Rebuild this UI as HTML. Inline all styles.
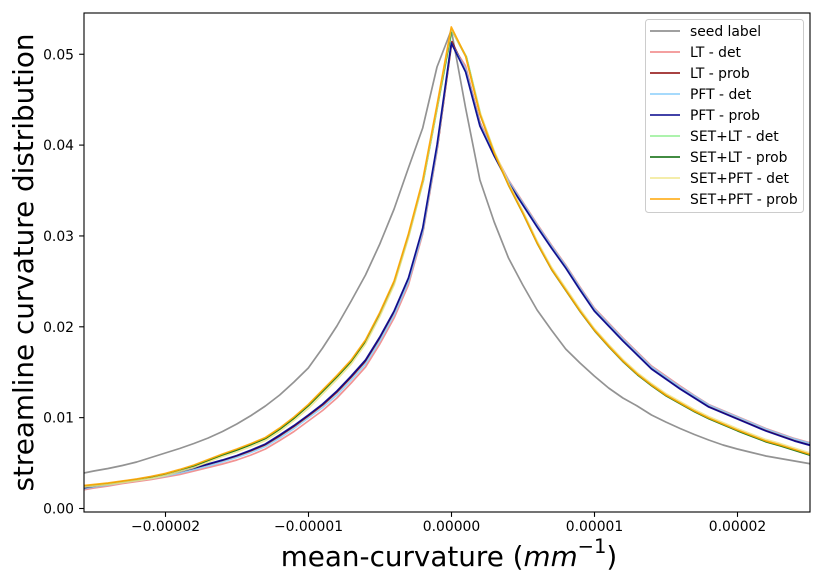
<!DOCTYPE html>
<html>
<head>
<meta charset="utf-8">
<style>
  html, body { margin: 0; padding: 0; background: #ffffff; }
  svg { display: block; }
  text { font-family: "DejaVu Sans", "Liberation Sans", sans-serif; fill: #000; }
</style>
</head>
<body>
<svg width="824" height="584" viewBox="0 0 824 584" xmlns="http://www.w3.org/2000/svg">
  <rect x="0" y="0" width="824" height="584" fill="#ffffff"/>
  <defs>
    <clipPath id="plot">
      <rect x="84" y="13" width="726" height="499"/>
    </clipPath>
  </defs>

  <g clip-path="url(#plot)" fill="none" stroke-width="1.7" stroke-linejoin="round" stroke-linecap="butt" opacity="1">
    <!-- seed label -->
    <polyline stroke="#808080" stroke-opacity="0.85" points="79.5,474 93.8,471 108.1,468.5 122.4,465.5 136.7,462 151,457.5 165.3,453 179.6,448.5 193.9,443.5 208.2,438 222.5,431.5 236.8,424 251.1,415.5 265.4,406 279.7,395 294,382 308.3,368 322.6,348 336.9,326 351.2,301 365.5,275 379.8,244 394.1,209 408.4,168 422.7,128 437,67 451.3,30 465.6,108 479.9,180 494.2,222 508.5,258 522.8,285 537.1,310 551.4,330 565.7,349 580,363 594.3,376 608.6,388 622.9,398 637.2,406 651.5,415 665.8,422 680.1,428.5 694.4,434.5 708.7,440 723,445 737.3,449 751.6,452.5 765.9,456 780.2,458.5 794.5,461 808.8,463.5 823.1,466"/>
    <!-- LT - det -->
    <polyline stroke="#f08080" stroke-opacity="0.85" points="79.5,490.5 93.8,488 108.1,486 122.4,483.5 136.7,481.5 151,479.5 165.3,477 179.6,474.5 193.9,471 208.2,467.5 222.5,464 236.8,460 251.1,455 265.4,449 279.7,440.5 294,431.5 308.3,421 322.6,410.5 336.9,398 351.2,383 365.5,367 379.8,344 394.1,318 408.4,285 422.7,234 437,151 451.3,44 465.6,66 479.9,122 494.2,153 508.5,180 522.8,202 537.1,224 551.4,245 565.7,265 580,287 594.3,308 608.6,323 622.9,338 637.2,352 651.5,366 665.8,376 680.1,386 694.4,395.5 708.7,404.5 723,410.5 737.3,416.5 751.6,422.5 765.9,428.5 780.2,433.5 794.5,438.5 808.8,442.5 823.1,446.5"/>
    <!-- LT - prob -->
    <polyline stroke="#8b0000" stroke-opacity="0.85" transform="translate(0.6,0.6)" points="79.5,488.5 93.8,486 108.1,484 122.4,481.5 136.7,479.5 151,477 165.3,474.5 179.6,471.5 193.9,468 208.2,464 222.5,460 236.8,455.5 251.1,450 265.4,444 279.7,435 294,425.5 308.3,415 322.6,404 336.9,391 351.2,376 365.5,360 379.8,337 394.1,311 408.4,278 422.7,228 437,145 451.3,41 465.6,71 479.9,125 494.2,155 508.5,182 522.8,204 537.1,226 551.4,247 565.7,267 580,289 594.3,310 608.6,325 622.9,340 637.2,354 651.5,368 665.8,378 680.1,388 694.4,397 708.7,406 723,412 737.3,418 751.6,424 765.9,430 780.2,435 794.5,440 808.8,444 823.1,448"/>
    <!-- PFT - det -->
    <polyline stroke="#87cefa" stroke-opacity="0.85" points="79.5,489.5 93.8,487 108.1,485 122.4,482.5 136.7,480.5 151,478.5 165.3,476 179.6,473 193.9,469.5 208.2,466 222.5,462 236.8,457.5 251.1,452.5 265.4,446.5 279.7,438 294,428.5 308.3,418 322.6,407.5 336.9,395 351.2,380 365.5,364 379.8,341 394.1,315 408.4,282 422.7,232 437,149 451.3,43 465.6,69 479.9,124 494.2,154 508.5,181 522.8,203 537.1,225 551.4,246 565.7,266 580,288 594.3,309 608.6,324 622.9,339 637.2,353 651.5,367 665.8,377 680.1,387 694.4,396 708.7,405 723,411 737.3,417 751.6,423 765.9,429 780.2,434 794.5,439 808.8,443 823.1,447"/>
    <!-- PFT - prob -->
    <polyline stroke="#00008b" stroke-opacity="0.9" points="79.5,488.5 93.8,486 108.1,484 122.4,481.5 136.7,479.5 151,477 165.3,474.5 179.6,471.5 193.9,468 208.2,464 222.5,460 236.8,455.5 251.1,450 265.4,444 279.7,435 294,425.5 308.3,415 322.6,404 336.9,391 351.2,376 365.5,360 379.8,337 394.1,311 408.4,278 422.7,228 437,145 451.3,43 465.6,72 479.9,126 494.2,156 508.5,183 522.8,205 537.1,227 551.4,248 565.7,268 580,290 594.3,311 608.6,326 622.9,341 637.2,355 651.5,369 665.8,379 680.1,389 694.4,398 708.7,407 723,413 737.3,419 751.6,425 765.9,431 780.2,436 794.5,441 808.8,445 823.1,449"/>
    <!-- SET+LT - det -->
    <polyline stroke="#90ee90" stroke-opacity="0.85" transform="translate(0.8,0.5)" points="79.5,486 93.8,484.5 108.1,483 122.4,481 136.7,479 151,476.5 165.3,473.5 179.6,469.5 193.9,465 208.2,459.5 222.5,454 236.8,449 251.1,443.5 265.4,437.5 279.7,428 294,417 308.3,404.5 322.6,390 336.9,375.5 351.2,360 365.5,340 379.8,312.5 394.1,281 408.4,234 422.7,180 437,105 451.3,30 465.6,56 479.9,114 494.2,153 508.5,185 522.8,213 537.1,243 551.4,269 565.7,290 580,311 594.3,330 608.6,346 622.9,361 637.2,374 651.5,385 665.8,395 680.1,403 694.4,411 708.7,418 723,424 737.3,430 751.6,435.5 765.9,441 780.2,445 794.5,449.5 808.8,454 823.1,458"/>
    <!-- SET+LT - prob -->
    <polyline stroke="#006400" stroke-opacity="0.85" transform="translate(0.4,0.9)" points="79.5,486 93.8,484.5 108.1,483 122.4,481 136.7,479 151,476.5 165.3,473.5 179.6,469.5 193.9,465 208.2,459.5 222.5,454 236.8,449 251.1,443.5 265.4,437.5 279.7,428 294,417 308.3,404.5 322.6,390 336.9,375.5 351.2,360 365.5,340 379.8,312.5 394.1,281 408.4,234 422.7,180 437,105 451.3,29 465.6,56 479.9,114 494.2,153 508.5,185 522.8,213 537.1,243 551.4,269 565.7,290 580,311 594.3,330 608.6,346 622.9,361 637.2,374 651.5,385 665.8,395 680.1,403 694.4,411 708.7,418 723,424 737.3,430 751.6,435.5 765.9,441 780.2,445 794.5,449.5 808.8,454 823.1,458"/>
    <!-- SET+PFT - det -->
    <polyline stroke="#f0e68c" stroke-opacity="0.85" points="79.5,487.5 93.8,486 108.1,484.5 122.4,482.5 136.7,480.5 151,478.5 165.3,475.5 179.6,471.5 193.9,467.5 208.2,462 222.5,456.5 236.8,452 251.1,446.5 265.4,440.5 279.7,431.5 294,420.5 308.3,408.5 322.6,394 336.9,379.5 351.2,364 365.5,344 379.8,316.5 394.1,285 408.4,238 422.7,183 437,108 451.3,29 465.6,56 479.9,112 494.2,151 508.5,183 522.8,211 537.1,241 551.4,267 565.7,288 580,309 594.3,328.5 608.6,344.5 622.9,359.5 637.2,372.5 651.5,383.5 665.8,393.5 680.1,401.5 694.4,409.5 708.7,416.5 723,422.5 737.3,428.5 751.6,434 765.9,439.5 780.2,443.5 794.5,448 808.8,452.5 823.1,456.5"/>
    <!-- SET+PFT - prob -->
    <polyline stroke="#ffa500" stroke-opacity="0.9" points="79.5,486 93.8,484.5 108.1,483 122.4,481 136.7,479 151,476.5 165.3,473.5 179.6,469.5 193.9,465 208.2,459.5 222.5,454 236.8,449 251.1,443.5 265.4,437.5 279.7,428 294,417 308.3,404.5 322.6,390 336.9,375.5 351.2,360 365.5,340 379.8,312.5 394.1,281 408.4,234 422.7,180 437,105 451.3,27 465.6,56 479.9,114 494.2,153 508.5,185 522.8,213 537.1,243 551.4,269 565.7,290 580,311 594.3,330 608.6,346 622.9,361 637.2,374 651.5,385 665.8,395 680.1,403 694.4,411 708.7,418 723,424 737.3,430 751.6,435.5 765.9,441 780.2,445 794.5,449.5 808.8,454 823.1,458"/>
  </g>

  <!-- axes frame -->
  <rect x="84" y="13" width="726" height="499" fill="none" stroke="#000" stroke-width="1.1"/>

  <!-- y ticks -->
  <g stroke="#000" stroke-width="1.1">
    <line x1="79.1" y1="508.5" x2="84" y2="508.5"/>
    <line x1="79.1" y1="417.65" x2="84" y2="417.65"/>
    <line x1="79.1" y1="326.8" x2="84" y2="326.8"/>
    <line x1="79.1" y1="235.95" x2="84" y2="235.95"/>
    <line x1="79.1" y1="145.1" x2="84" y2="145.1"/>
    <line x1="79.1" y1="54.25" x2="84" y2="54.25"/>
  </g>
  <g font-size="13.9" text-anchor="end">
    <text x="74" y="513.5">0.00</text>
    <text x="74" y="422.65">0.01</text>
    <text x="74" y="331.8">0.02</text>
    <text x="74" y="240.95">0.03</text>
    <text x="74" y="150.1">0.04</text>
    <text x="74" y="59.25">0.05</text>
  </g>

  <!-- x ticks -->
  <g stroke="#000" stroke-width="1.1">
    <line x1="165.5" y1="512" x2="165.5" y2="516.9"/>
    <line x1="308.5" y1="512" x2="308.5" y2="516.9"/>
    <line x1="451.5" y1="512" x2="451.5" y2="516.9"/>
    <line x1="594.5" y1="512" x2="594.5" y2="516.9"/>
    <line x1="737.5" y1="512" x2="737.5" y2="516.9"/>
  </g>
  <g font-size="13.9" text-anchor="middle">
    <text x="165.5" y="531">−0.00002</text>
    <text x="308.5" y="531">−0.00001</text>
    <text x="451.5" y="531">0.00000</text>
    <text x="594.5" y="531">0.00001</text>
    <text x="737.5" y="531">0.00002</text>
  </g>

  <!-- axis labels -->
  <text x="449" y="566" font-size="27.8" text-anchor="middle">mean-curvature (<tspan font-style="italic">mm</tspan><tspan font-size="19.5" dy="-13">−1</tspan><tspan dy="13">)</tspan></text>
  <text transform="translate(33,262.5) rotate(-90)" font-size="27.8" text-anchor="middle">streamline curvature distribution</text>

  <!-- legend -->
  <rect x="645.5" y="19.5" width="158" height="193" rx="3" ry="3" fill="#ffffff" fill-opacity="0.8" stroke="#cccccc" stroke-width="1"/>
  <g stroke-width="1.7" stroke-opacity="0.85">
    <line x1="650" y1="31" x2="680" y2="31" stroke="#808080"/>
    <line x1="650" y1="52" x2="680" y2="52" stroke="#f08080"/>
    <line x1="650" y1="73" x2="680" y2="73" stroke="#8b0000"/>
    <line x1="650" y1="94" x2="680" y2="94" stroke="#87cefa"/>
    <line x1="650" y1="115" x2="680" y2="115" stroke="#00008b"/>
    <line x1="650" y1="136" x2="680" y2="136" stroke="#90ee90"/>
    <line x1="650" y1="157" x2="680" y2="157" stroke="#006400"/>
    <line x1="650" y1="178" x2="680" y2="178" stroke="#f0e68c"/>
    <line x1="650" y1="199" x2="680" y2="199" stroke="#ffa500"/>
  </g>
  <g font-size="13.9">
    <text x="690" y="36">seed label</text>
    <text x="690" y="57">LT - det</text>
    <text x="690" y="78">LT - prob</text>
    <text x="690" y="99">PFT - det</text>
    <text x="690" y="120">PFT - prob</text>
    <text x="690" y="141">SET+LT - det</text>
    <text x="690" y="162">SET+LT - prob</text>
    <text x="690" y="183">SET+PFT - det</text>
    <text x="690" y="204">SET+PFT - prob</text>
  </g>
</svg>
</body>
</html>
